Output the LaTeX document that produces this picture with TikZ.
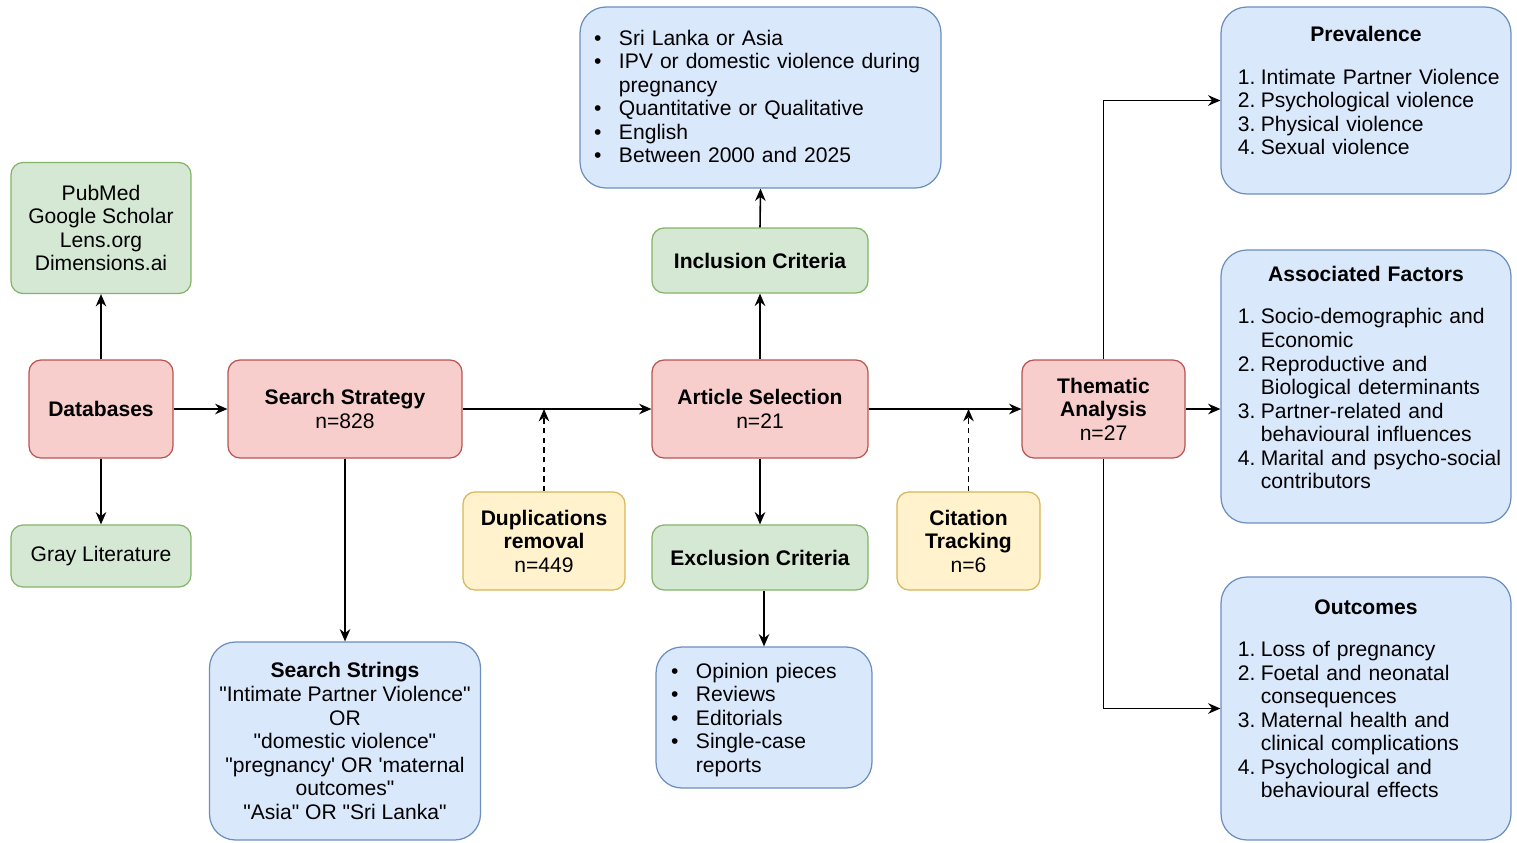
\documentclass[tikz,border=0pt]{standalone}
\usepackage{fontspec}
\setmainfont{Liberation Sans}[Ligatures=TeXOff]
\usepackage{enumitem}
\usetikzlibrary{arrows.meta}

\definecolor{redF}{HTML}{F8CECC}\definecolor{redD}{HTML}{B85450}
\definecolor{grnF}{HTML}{D5E8D4}\definecolor{grnD}{HTML}{82B366}
\definecolor{bluF}{HTML}{DAE8FC}\definecolor{bluD}{HTML}{6C8EBF}
\definecolor{ylwF}{HTML}{FFF2CC}\definecolor{ylwD}{HTML}{D6B656}

\setlist{topsep=0pt,itemsep=0pt,parsep=0pt,partopsep=0pt,align=left}
\setlist[itemize]{label=\textbullet,leftmargin=14.2pt,labelindent=0pt,labelwidth=4.2pt,labelsep=10pt}
\setlist[enumerate]{label=\arabic*.,leftmargin=21.5pt,labelindent=8.5pt,labelwidth=10pt,labelsep=3pt}

\begin{document}
\begin{tikzpicture}[x=0.02cm,y=-0.02cm,>={Stealth[length=7pt,width=6pt]},
	box/.style={draw,rounded corners=6.8pt,line width=0.7pt,align=center,inner sep=2pt,font=\fontsize{12}{13.4}\selectfont},
	pinkbox/.style={box,fill=redF,draw=redD},
	greenbox/.style={box,fill=grnF,draw=grnD},
	yellowbox/.style={box,fill=ylwF,draw=ylwD},
	bluebox/.style={box,fill=bluF,draw=bluD,rounded corners=14.7pt},
	link/.style={->,line width=0.9pt},
	dlink/.style={->,line width=0.8pt,dash pattern=on 3pt off 2.5pt}]
	\useasboundingbox (0,0) rectangle (1517,842);
	% left column
	\node[greenbox,minimum width=3.6cm,minimum height=2.62cm] (pubmed) at (101,228) {PubMed\\Google Scholar\\Lens.org\\Dimensions.ai};
	\node[pinkbox,minimum width=2.88cm,minimum height=1.96cm] (db) at (101,409) {\bfseries Databases};
	\node[greenbox,minimum width=3.6cm,minimum height=1.24cm] (gray) at (101,556) {Gray Literature};
	\node[pinkbox,minimum width=4.68cm,minimum height=1.96cm] (strategy) at (345,409) {\textbf{Search Strategy}\\n=828};
	\node[bluebox,minimum width=5.42cm,minimum height=3.96cm] (strings) at (345,741)
		{\textbf{Search Strings}\\"Intimate Partner Violence"\\OR\\"domestic violence"\\"pregnancy' OR 'maternal\\outcomes"\\"Asia" OR "Sri Lanka"};
	\node[yellowbox,minimum width=3.24cm,minimum height=1.96cm] (dup) at (544,541) {\textbf{Duplications}\\\textbf{removal}\\n=449};
	% middle column
	\node[pinkbox,minimum width=4.32cm,minimum height=1.96cm] (article) at (760,409) {\textbf{Article Selection}\\n=21};
	\node[greenbox,minimum width=4.32cm,minimum height=1.3cm] (incl) at (760,260.5) {\bfseries Inclusion Criteria};
	\node[bluebox,align=left,text width=6.66cm,inner xsep=0.28cm,minimum width=7.22cm,minimum height=3.62cm] (incllist) at (760.5,97.5)
		{\begin{itemize}
			\item Sri Lanka or Asia
			\item IPV or domestic violence during\\pregnancy
			\item Quantitative or Qualitative
			\item English
			\item Between 2000 and 2025
		\end{itemize}\par\vspace{6pt}\hrule height 0pt width 0pt};
	\node[greenbox,minimum width=4.32cm,minimum height=1.3cm] (excl) at (760,557.5) {\bfseries Exclusion Criteria};
	\node[bluebox,align=left,text width=3.72cm,inner xsep=0.3cm,minimum width=4.32cm,minimum height=2.82cm] (excllist) at (764,717.5)
		{\begin{itemize}
			\item Opinion pieces
			\item Reviews
			\item Editorials
			\item Single-case\\reports
		\end{itemize}\par\vspace{2pt}\hrule height 0pt width 0pt};
	\node[yellowbox,minimum width=2.86cm,minimum height=1.96cm] (cite) at (968.5,541) {\textbf{Citation}\\\textbf{Tracking}\\n=6};
	\node[pinkbox,minimum width=3.26cm,minimum height=1.96cm] (thematic) at (1103.5,409) {\textbf{Thematic}\\\textbf{Analysis}\\n=27};
	% right column
	\node[bluebox,align=left,text width=5.72cm,inner xsep=0.04cm,minimum width=5.8cm,minimum height=3.74cm] (prev) at (1366,100.5)
		{{\centering\textbf{Prevalence}\par}\vspace{10.6pt}
		\begin{enumerate}
			\item Intimate Partner Violence
			\item Psychological violence
			\item Physical violence
			\item Sexual violence
		\end{enumerate}\par\vspace{11pt}\hrule height 0pt width 0pt};
	\node[bluebox,align=left,text width=5.72cm,inner xsep=0.04cm,minimum width=5.8cm,minimum height=5.46cm] (assoc) at (1366,386.5)
		{{\centering\textbf{Associated Factors}\par}\vspace{10.6pt}
		\begin{enumerate}
			\item Socio-demographic and\\Economic
			\item Reproductive and\\Biological determinants
			\item Partner-related and\\behavioural influences
			\item Marital and psycho-social\\contributors
		\end{enumerate}\par\vspace{10pt}\hrule height 0pt width 0pt};
	\node[bluebox,align=left,text width=5.72cm,inner xsep=0.04cm,minimum width=5.8cm,minimum height=5.26cm] (outc) at (1366,708.5)
		{{\centering\textbf{Outcomes}\par}\vspace{10.6pt}
		\begin{enumerate}
			\item Loss of pregnancy
			\item Foetal and neonatal\\consequences
			\item Maternal health and\\clinical complications
			\item Psychological and\\behavioural effects
		\end{enumerate}\par\vspace{11pt}\hrule height 0pt width 0pt};
	% connectors
	\draw[link] (db.north) -- (pubmed.south);
	\draw[link] (db.south) -- (gray.north);
	\draw[link] (db.east) -- (strategy.west);
	\draw[link] (strategy.south) -- (strings.north);
	\draw[link] (strategy.east) -- (article.west);
	\draw[dlink] (dup.north) -- (dup.north |- strategy.east);
	\draw[link] (article.north) -- (incl.south);
	\draw[link] (incl.north) -- (incllist.south);
	\draw[link] (article.south) -- (excl.north);
	\draw[link] (excllist.north |- excl.south) -- (excllist.north);
	\draw[link] (article.east) -- (thematic.west);
	\draw[dlink] (cite.north) -- (cite.north |- article.east);
	\draw[link] (thematic.north) |- (prev.west);
	\draw[link] (thematic.east) -- (thematic.east -| assoc.west);
	\draw[link] (thematic.south) |- (outc.west);
\end{tikzpicture}
\end{document}
